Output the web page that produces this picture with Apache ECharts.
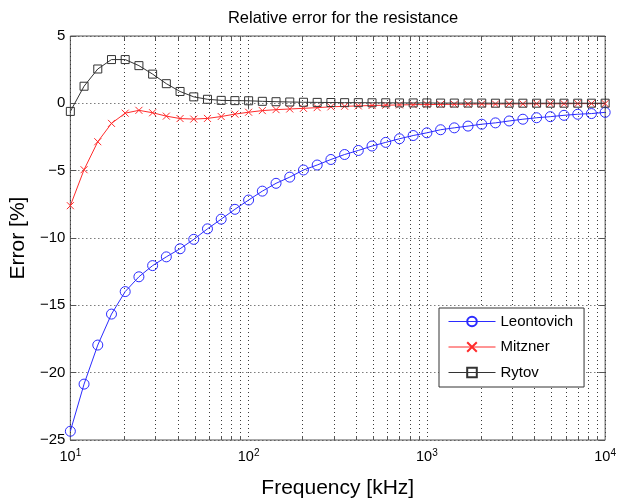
<!DOCTYPE html>
<html>
<head>
<meta charset="utf-8">
<script src="https://cdn.jsdelivr.net/npm/echarts@6/dist/echarts.min.js"></script>
<style>html,body{margin:0;padding:0;background:#fff;}#c{width:619px;height:504px;}</style>
</head>
<body>
<div id="c"></div>
<script>
const freq = [10, 11.938, 14.251, 17.013, 20.309, 24.245, 28.943, 34.551, 41.246, 49.239,
  58.780, 70.170, 83.768, 100, 119.38, 142.51, 170.13, 203.09, 242.45, 289.43,
  345.51, 412.46, 492.39, 587.80, 701.70, 837.68, 1000, 1193.8, 1425.1, 1701.3,
  2030.9, 2424.5, 2894.3, 3455.1, 4124.6, 4923.9, 5878.0, 7017.0, 8376.8, 10000];
const leontovich = [-24.35, -20.85, -17.95, -15.65, -13.98, -12.88, -12.05, -11.4, -10.8, -10.1,
  -9.32, -8.6, -7.87, -7.18, -6.52, -5.94, -5.48, -4.95, -4.58, -4.17,
  -3.8, -3.5, -3.17, -2.9, -2.63, -2.39, -2.19, -1.96, -1.82, -1.69,
  -1.55, -1.45, -1.31, -1.18, -1.07, -0.99, -0.89, -0.81, -0.76, -0.67];
const mitzner = [-7.6, -4.93, -2.85, -1.49, -0.73, -0.52, -0.7, -0.95, -1.13, -1.17,
  -1.12, -0.98, -0.8, -0.66, -0.54, -0.47, -0.42, -0.37, -0.32, -0.26,
  -0.22, -0.19, -0.16, -0.14, -0.12, -0.1, -0.09, -0.08, -0.07, -0.06,
  -0.05, -0.05, -0.04, -0.04, -0.03, -0.03, -0.03, -0.02, -0.02, -0.02];
const rytov = [-0.6, 1.27, 2.55, 3.25, 3.25, 2.8, 2.17, 1.46, 0.88, 0.48,
  0.3, 0.22, 0.2, 0.19, 0.15, 0.12, 0.1, 0.08, 0.07, 0.06,
  0.05, 0.05, 0.04, 0.04, 0.03, 0.03, 0.03, 0.02, 0.02, 0.02,
  0.02, 0.01, 0.01, 0.01, 0.01, 0.01, 0.01, 0.01, 0.01, 0.01];
const xTicks = [10, 100, 1000, 10000];
const yTicks = [-25, -20, -15, -10, -5, 0, 5];
const minorX = [20, 30, 40, 50, 60, 70, 80, 90, 200, 300, 400, 500, 600, 700, 800, 900,
  2000, 3000, 4000, 5000, 6000, 7000, 8000, 9000];
const seriesNames = ['Leontovich', 'Mitzner', 'Rytov'];
const colors = ['#2b2bff', '#ff2b2b', '#333333'];

const FONT = 'Liberation Sans, Arial, sans-serif';
const xMin = xTicks[0], xMax = xTicks[xTicks.length - 1];
const yMin = yTicks[0], yMax = yTicks[yTicks.length - 1];
const gridCol = '#3a3a3a';
const boxCol = '#555555';

function pairs(ys) { return freq.map((f, i) => [f, ys[i]]); }

const chart = echarts.init(document.getElementById('c'), null, {renderer: 'canvas'});
chart.setOption({
  animation: false,
  backgroundColor: '#ffffff',
  title: {
    text: 'Relative error for the resistance',
    left: 338, top: 5, textAlign: 'center',
    textStyle: {fontFamily: FONT, fontSize: 16.5, fontWeight: 'normal', color: '#000'}
  },
  grid: {left: 67, right: 11, top: 36, bottom: 61, show: true, borderColor: boxCol, borderWidth: 1, backgroundColor: 'transparent'},
  legend: {
    data: seriesNames,
    orient: 'vertical',
    left: 439, top: 308,
    backgroundColor: '#fff',
    borderColor: '#333', borderWidth: 1, borderRadius: 0,
    padding: [6, 11, 7, 9],
    itemWidth: 47, itemHeight: 12, itemGap: 10.5,
    lineStyle: {width: 1},
    textStyle: {fontFamily: FONT, fontSize: 15, color: '#000'}
  },
  xAxis: [{
    type: 'log', logBase: 10, min: xMin, max: xMax,
    name: 'Frequency [kHz]', nameLocation: 'middle', nameGap: 38,
    nameTextStyle: {fontFamily: FONT, fontSize: 21, color: '#000'},
    axisLine: {show: false},
    axisTick: {show: true, inside: true, length: 6, lineStyle: {color: boxCol}},
    axisLabel: {
      margin: 8,
      formatter: v => '{b|10}{s|' + Math.round(Math.log10(v)) + '}',
      rich: {
        b: {fontFamily: FONT, fontSize: 14.5, color: '#000'},
        s: {fontFamily: FONT, fontSize: 10, color: '#000', padding: [0, 0, 8, 0]}
      }
    },
    splitLine: {show: true, lineStyle: {color: gridCol, type: [1, 3], width: 1}},
    minorTick: {show: false}, minorSplitLine: {show: false}
  }, {
    type: 'log', logBase: 10, min: xMin, max: xMax, position: 'top',
    axisLine: {show: false},
    axisTick: {show: true, inside: true, length: 6, lineStyle: {color: boxCol}},
    axisLabel: {show: false}, splitLine: {show: false}
  }],
  yAxis: [{
    type: 'value', min: yMin, max: yMax, interval: 5,
    name: 'Error [%]', nameLocation: 'middle', nameGap: 41, nameRotate: 90,
    nameTextStyle: {fontFamily: FONT, fontSize: 21, color: '#000'},
    axisLine: {show: false},
    axisTick: {show: true, inside: true, length: 6, lineStyle: {color: boxCol}},
    axisLabel: {fontFamily: FONT, fontSize: 15, color: '#000', margin: 5,
      formatter: v => String(v).replace('-', '\u2212')},
    splitLine: {show: true, lineStyle: {color: gridCol, type: [1, 3], width: 1}}
  }, {
    type: 'value', min: yMin, max: yMax, interval: 5, position: 'right',
    axisLine: {show: false},
    axisTick: {show: true, inside: true, length: 6, lineStyle: {color: boxCol}},
    axisLabel: {show: false}, splitLine: {show: false}
  }],
  series: [
    {
      type: 'custom', silent: true, z: 1,
      xAxisIndex: 0, yAxisIndex: 0,
      data: minorX.map(v => [v, 0]),
      encode: {x: 0, y: 1},
      clip: false,
      renderItem: function (params, api) {
        const x = api.value(0);
        const t = api.coord([x, yMax]);
        const b = api.coord([x, yMin]);
        const px = Math.round(t[0]) + 0.5;
        return {type: 'group', children: [
          {type: 'line', shape: {x1: px, y1: t[1], x2: px, y2: b[1]},
            style: {stroke: gridCol, lineWidth: 1, lineDash: [1, 3]}},
          {type: 'line', shape: {x1: px, y1: b[1], x2: px, y2: b[1] - 4},
            style: {stroke: boxCol, lineWidth: 1}},
          {type: 'line', shape: {x1: px, y1: t[1], x2: px, y2: t[1] + 4},
            style: {stroke: boxCol, lineWidth: 1}}
        ]};
      }
    },
    {
      name: seriesNames[0], type: 'line', z: 3, data: pairs(leontovich),
      color: colors[0], symbol: 'circle', symbolSize: 10, showAllSymbol: true,
      lineStyle: {width: 1, color: colors[0]},
      itemStyle: {color: 'rgba(0,0,0,0)', borderColor: colors[0], borderWidth: 1}
    },
    {
      name: seriesNames[1], type: 'line', z: 4, data: pairs(mitzner),
      color: colors[1], symbol: 'path://M0,0L10,10M10,0L0,10', symbolSize: 7, showAllSymbol: true,
      lineStyle: {width: 1, color: colors[1]},
      itemStyle: {color: 'rgba(0,0,0,0)', borderColor: colors[1], borderWidth: 1}
    },
    {
      name: seriesNames[2], type: 'line', z: 5, data: pairs(rytov),
      color: colors[2], symbol: 'rect', symbolSize: 8, showAllSymbol: true,
      lineStyle: {width: 1, color: colors[2]},
      itemStyle: {color: 'rgba(0,0,0,0)', borderColor: colors[2], borderWidth: 1}
    }
  ]
});
</script>
</body>
</html>
